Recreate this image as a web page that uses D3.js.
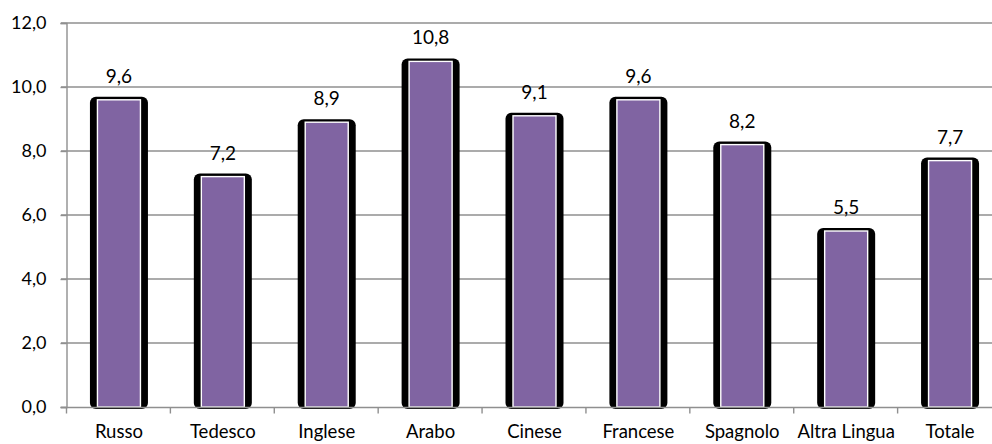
<!DOCTYPE html>
<html>
<head>
<meta charset="utf-8">
<script src="https://cdn.jsdelivr.net/npm/d3@7"></script>
<style>
  html, body { margin: 0; padding: 0; background: #fff; }
  svg { display: block; }
  text { font-family: Lato, "Open Sans", sans-serif; fill: #000; }
</style>
</head>
<body>
<svg id="chart" width="992" height="444"></svg>
<script>
const categories = ["Russo", "Tedesco", "Inglese", "Arabo", "Cinese", "Francese", "Spagnolo", "Altra Lingua", "Totale"];
const values = [9.6, 7.2, 8.9, 10.8, 9.1, 9.6, 8.2, 5.5, 7.7];
const yTicks = [0, 2, 4, 6, 8, 10, 12];

const svg = d3.select("#chart");
const mLeft = 67, mRight = 1002, mTop = 23, mBottom = 407;

const x = d3.scaleBand().domain(categories).range([mLeft, mRight]).padding(0);
const y = d3.scaleLinear().domain([0, 12]).range([mBottom, mTop]);
const fmt = v => d3.format(".1f")(v).replace(".", ",");

// gridlines
svg.append("g").selectAll("line").data(yTicks.filter(t => t > 0)).join("line")
  .attr("x1", mLeft - 6).attr("x2", 992)
  .attr("y1", d => y(d)).attr("y2", d => y(d))
  .attr("stroke", "#8f8f8f").attr("stroke-width", 1.4);

// y axis
const yAxis = svg.append("g").attr("transform", `translate(${mLeft - 0.5},0)`)
  .call(d3.axisLeft(y).tickValues(yTicks).tickSize(6).tickPadding(14).tickFormat(fmt));
yAxis.select(".domain").attr("stroke", "#8f8f8f").attr("stroke-width", 1.4);
yAxis.selectAll(".tick line").attr("stroke", "#8f8f8f").attr("stroke-width", 1.4);
yAxis.selectAll("text").attr("font-size", 18).attr("font-family", "Lato, sans-serif").attr("fill", "#000");

// bars: black rounded backing
const g = svg.append("g");
g.selectAll("rect.back").data(values).join("rect").attr("class", "back")
  .attr("x", (d, i) => x(categories[i]) + x.bandwidth() / 2 - 29)
  .attr("width", 58)
  .attr("y", d => y(d) - 3)
  .attr("height", d => y(0) - y(d) + 5)
  .attr("rx", 6).attr("ry", 6)
  .attr("fill", "#000");

g.selectAll("rect.bar").data(values).join("rect").attr("class", "bar")
  .attr("x", (d, i) => x(categories[i]) + x.bandwidth() / 2 - 21.5)
  .attr("width", 43)
  .attr("y", d => y(d))
  .attr("height", d => y(0) - y(d))
  .attr("fill", "#8064A2")
  .attr("stroke", "#fff").attr("stroke-width", 1.4);

// x axis
const xAxis = svg.append("g").attr("transform", `translate(0,${mBottom + 0.5})`);
xAxis.append("line").attr("x1", mLeft - 6).attr("x2", 992).attr("y1", 0).attr("y2", 0)
  .attr("stroke", "#8f8f8f").attr("stroke-width", 1.4);
const edges = categories.map(c => x(c));
xAxis.selectAll("line.tk").data(edges).join("line").attr("class", "tk")
  .attr("x1", d => d - 0.5).attr("x2", d => d - 0.5).attr("y1", 0).attr("y2", 6)
  .attr("stroke", "#8f8f8f").attr("stroke-width", 1.4);
xAxis.selectAll("text").data(categories).join("text")
  .attr("x", d => x(d) + x.bandwidth() / 2)
  .attr("y", 30)
  .attr("text-anchor", "middle")
  .attr("font-size", 18.5)
  .text(d => d);

// value labels
g.selectAll("text.val").data(values).join("text").attr("class", "val")
  .attr("x", (d, i) => x(categories[i]) + x.bandwidth() / 2)
  .attr("y", d => y(d) - 17)
  .attr("text-anchor", "middle")
  .attr("font-size", 19)
  .text(d => fmt(d));
</script>
</body>
</html>
